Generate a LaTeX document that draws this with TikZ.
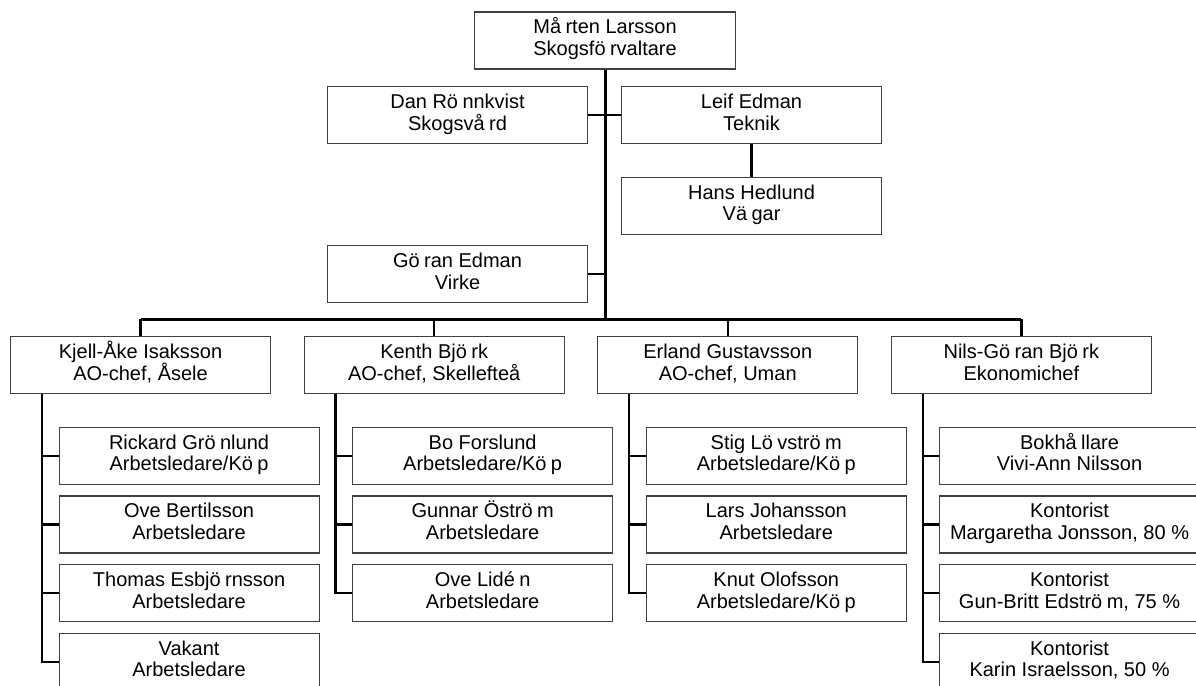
\documentclass[tikz,border=0pt]{standalone}
\usepackage{fontspec}
\setmainfont{Liberation Sans}
\newcommand{\gk}{\kern0.22em}
\newcommand{\twol}[2]{\rule{0pt}{20pt}#1\\#2\rule[-11.7pt]{0pt}{11.7pt}}
\tikzset{
  box/.style={draw=black!75, line width=1.1pt, fill=white, minimum width=260pt,
    minimum height=57pt, inner sep=0pt, align=center,
    font=\fontsize{20}{21.7}\selectfont, anchor=north west},
  conn/.style={line width=2.3pt},
  trunk/.style={line width=3pt}
}
\begin{document}
\begin{tikzpicture}[x=1pt,y=-1pt]
\useasboundingbox[fill=white] (0,0) rectangle (1196,685);
% level 0 and staff
\node[box, minimum width=261pt] (top) at (474,11.5) {\twol{Må\gk rten Larsson}{Skogsfö\gk rvaltare}};
\node[box] (dan) at (327,86) {\twol{Dan Rö\gk nnkvist}{Skogsvå\gk rd}};
\node[box] (leif) at (621,86) {\twol{Leif Edman}{Teknik}};
\node[box] (hans) at (621,176.7) {\twol{Hans Hedlund}{Vä\gk gar}};
\node[box] (goran) at (327,245) {\twol{Gö\gk ran Edman}{Virke}};
% level 1
\node[box] (kjell) at (10,336) {\twol{Kjell-Åke Isaksson}{AO-chef, Åsele}};
\node[box] (kenth) at (303.6,336) {\twol{Kenth Bjö\gk rk}{AO-chef, Skellefteå}};
\node[box] (erland) at (597.2,336) {\twol{Erland Gustavsson}{AO-chef, Uman}};
\node[box] (nils) at (890.8,336) {\twol{Nils-Gö\gk ran Bjö\gk rk}{Ekonomichef}};
% level 2
\node[box] (k1) at (58.5,426.7) {\twol{Rickard Grö\gk nlund}{Arbetsledare/Kö\gk p}};
\node[box] (k2) at (58.5,495.4) {\twol{Ove Bertilsson}{Arbetsledare}};
\node[box] (k3) at (58.5,564.1) {\twol{Thomas Esbjö\gk rnsson}{Arbetsledare}};
\node[box] (k4) at (58.5,632.8) {\twol{Vakant}{Arbetsledare}};
\node[box] (b1) at (352.1,426.7) {\twol{Bo Forslund}{Arbetsledare/Kö\gk p}};
\node[box] (b2) at (352.1,495.4) {\twol{Gunnar Öströ\gk m}{Arbetsledare}};
\node[box] (b3) at (352.1,564.1) {\twol{Ove Lidé\gk n}{Arbetsledare}};
\node[box] (e1) at (645.7,426.7) {\twol{Stig Lö\gk vströ\gk m}{Arbetsledare/Kö\gk p}};
\node[box] (e2) at (645.7,495.4) {\twol{Lars Johansson}{Arbetsledare}};
\node[box] (e3) at (645.7,564.1) {\twol{Knut Olofsson}{Arbetsledare/Kö\gk p}};
\node[box] (n1) at (939,426.7) {\twol{Bokhå\gk llare}{Vivi-Ann Nilsson}};
\node[box] (n2) at (939,495.4) {\twol{Kontorist}{Margaretha Jonsson, 80 \%}};
\node[box] (n3) at (939,564.1) {\twol{Kontorist}{Gun-Britt Edströ\gk m, 75 \%}};
\node[box] (n4) at (939,632.8) {\twol{Kontorist}{Karin Israelsson, 50 \%}};
% trunk and bus
\coordinate (bus) at (604.5,319.3);
\draw[trunk] (top.south) -- (top.south |- bus);
\draw[trunk] (kjell.north |- bus) -- (nils.north |- bus);
\draw[conn] (dan.east) -- (dan.east -| top.south);
\draw[conn] (leif.west) -- (leif.west -| top.south);
\draw[conn] (goran.east) -- (goran.east -| top.south);
\draw[conn] (leif.south) -- (hans.north);
\foreach \p in {kjell,kenth,erland,nils}{
  \draw[conn] (\p.north) -- (\p.north |- bus);
  \coordinate (\p v) at ([xshift=32pt]\p.south west);
}
\draw[conn] (kjellv) |- (k4.west);
\draw[conn] (kjellv |- k1.west) -- (k1.west);
\draw[conn] (kjellv |- k2.west) -- (k2.west);
\draw[conn] (kjellv |- k3.west) -- (k3.west);
\draw[conn] (kenthv) |- (b3.west);
\draw[conn] (kenthv |- b1.west) -- (b1.west);
\draw[conn] (kenthv |- b2.west) -- (b2.west);
\draw[conn] (erlandv) |- (e3.west);
\draw[conn] (erlandv |- e1.west) -- (e1.west);
\draw[conn] (erlandv |- e2.west) -- (e2.west);
\draw[conn] (nilsv) |- (n4.west);
\draw[conn] (nilsv |- n1.west) -- (n1.west);
\draw[conn] (nilsv |- n2.west) -- (n2.west);
\draw[conn] (nilsv |- n3.west) -- (n3.west);
\end{tikzpicture}
\end{document}
